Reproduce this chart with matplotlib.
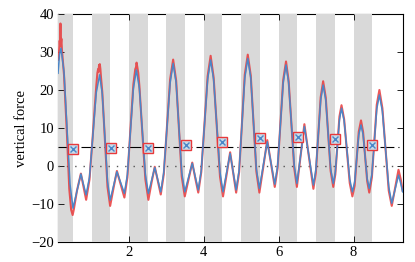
import matplotlib
matplotlib.use('Agg')
import matplotlib.pyplot as plt

plt.rcParams['font.family'] = ['Liberation Serif', 'DejaVu Serif']

# smooth (blue) trace
blue_x = [0.12, 0.16, 0.20, 0.28, 0.36, 0.44, 0.52, 0.625, 0.73, 0.80, 0.87,
          0.96, 1.05, 1.14, 1.23, 1.30, 1.37, 1.44, 1.51, 1.60, 1.69, 1.79, 1.89,
          1.97, 2.05, 2.13, 2.21, 2.29, 2.37, 2.45, 2.53, 2.615, 2.70, 2.78, 2.86,
          2.94, 3.025, 3.11, 3.19, 3.27, 3.345, 3.42, 3.50, 3.60, 3.70, 3.78, 3.86,
          3.94, 4.025, 4.11, 4.19, 4.27, 4.355, 4.44, 4.52, 4.615, 4.71, 4.79, 4.87,
          4.95, 5.025, 5.10, 5.18, 5.26, 5.335, 5.41, 5.49, 5.595, 5.70, 5.80, 5.90,
          5.975, 6.05, 6.125, 6.20, 6.27, 6.345, 6.42, 6.49, 6.59, 6.69, 6.81, 6.93,
          6.995, 7.06, 7.125, 7.19, 7.26, 7.325, 7.39, 7.46, 7.515, 7.57, 7.625, 7.68,
          7.75, 7.825, 7.90, 7.97, 8.03, 8.085, 8.14, 8.20, 8.255, 8.31, 8.365, 8.42,
          8.49, 8.555, 8.62, 8.69, 8.77, 8.855, 8.94, 9.02, 9.11, 9.20, 9.26, 9.31]
blue_y = [24.4, 29.3, 31.0, 24.7, 10.0, -4.8, -11.1, -6.6, -2.1, -4.9, -7.6,
          -2.9, 8.2, 19.3, 24.0, 19.0, 7.5, -4.0, -9.0, -5.25, -1.5, -4.35, -7.2,
          -2.3, 9.05, 20.4, 25.3, 20.4, 9.05, -2.3, -7.2, -3.8, -0.4, -3.6, -6.8,
          -1.7, 10.1, 21.9, 27.0, 21.9, 10.1, -1.7, -6.8, -3.05, 0.7, -2.8, -6.3,
          -1.2, 10.8, 22.8, 27.9, 22.7, 10.55, -1.6, -6.8, -1.75, 3.3, -1.5, -6.3,
          -1.1, 11.0, 23.1, 28.3, 23.2, 11.2, -0.8, -5.9, 0.25, 6.4, 0.8, -4.8,
          -0.1, 10.9, 21.9, 26.6, 21.9, 11.0, 0.1, -4.6, 2.9, 10.4, 2.7, -5.0,
          -1.05, 8.15, 17.35, 21.3, 17.4, 8.35, -0.7, -4.6, -1.6, 5.3, 12.2, 15.2,
          11.9, 4.2, -3.5, -6.8, -4.2, 2.0, 8.2, 10.8, 8.3, 2.45, -3.4, -5.9,
          -2.2, 6.4, 15.0, 18.7, 14.4, 4.45, -5.5, -9.8, -6.1, -2.4, -4.6, -6.8]

# raw (red) trace
red_x = [0.12, 0.15, 0.165, 0.175, 0.185, 0.19, 0.20, 0.21, 0.225, 0.28, 0.36, 0.42,
         0.47, 0.51, 0.54, 0.625, 0.73, 0.80, 0.87, 0.96, 1.05, 1.14, 1.17, 1.19,
         1.20, 1.215, 1.225, 1.235, 1.25, 1.265, 1.30, 1.37, 1.44, 1.51, 1.60, 1.69,
         1.79, 1.89, 1.97, 2.05, 2.13, 2.18, 2.20, 2.215, 2.23, 2.26, 2.29, 2.37,
         2.45, 2.53, 2.615, 2.70, 2.78, 2.86, 2.94, 3.025, 3.11, 3.19, 3.27, 3.345,
         3.42, 3.50, 3.60, 3.70, 3.78, 3.86, 3.94, 4.025, 4.11, 4.19, 4.27, 4.355,
         4.44, 4.52, 4.615, 4.71, 4.79, 4.87, 4.95, 5.025, 5.10, 5.18, 5.26, 5.335,
         5.41, 5.49, 5.595, 5.70, 5.80, 5.90, 5.975, 6.05, 6.125, 6.20, 6.27, 6.345,
         6.42, 6.49, 6.59, 6.69, 6.81, 6.93, 6.995, 7.06, 7.125, 7.19, 7.26, 7.325,
         7.39, 7.46, 7.515, 7.57, 7.625, 7.68, 7.75, 7.825, 7.90, 7.97, 8.03, 8.085,
         8.14, 8.20, 8.255, 8.31, 8.365, 8.42, 8.49, 8.555, 8.62, 8.69, 8.77, 8.855,
         8.94, 9.02, 9.11, 9.20, 9.26, 9.31]
red_y = [27.9, 30.5, 33.0, 31.5, 37.5, 33.5, 32.5, 33.5, 30.5, 24.0, 8.0, -6.0,
         -11.5, -12.9, -11.5, -6.5, -2.0, -5.5, -8.9, -3.5, 8.5, 21.0, 24.5, 25.5,
         24.8, 26.6, 25.2, 26.8, 25.5, 23.5, 19.5, 7.0, -5.5, -10.5, -5.8, -1.3,
         -4.8, -8.3, -3.0, 9.5, 21.5, 25.5, 26.0, 27.2, 26.3, 24.5, 21.0, 8.5,
         -3.5, -8.9, -4.3, -0.2, -3.9, -7.5, -2.2, 10.3, 22.8, 28.0, 22.5, 9.8,
         -2.8, -8.0, -3.5, 0.9, -3.2, -7.0, -1.6, 11.0, 23.6, 29.0, 23.3, 10.2,
         -2.8, -8.0, -2.3, 3.6, -1.8, -7.0, -1.6, 11.2, 24.0, 29.3, 23.8, 11.2,
         -1.5, -7.0, -0.2, 6.8, 0.6, -5.5, -0.6, 11.0, 22.6, 27.5, 22.4, 10.9,
         -0.6, -5.5, 2.7, 11.0, 2.5, -6.0, -1.8, 8.2, 18.1, 22.3, 18.0, 8.4,
         -1.3, -5.5, -2.2, 5.5, 13.0, 16.0, 12.3, 3.9, -4.5, -8.0, -5.2, 1.9,
         9.0, 12.0, 9.0, 2.5, -4.0, -7.0, -3.0, 6.6, 16.1, 20.0, 15.2, 4.3,
         -6.5, -10.5, -5.8, -1.0, -3.5, -6.5]

# stance phases (grey bands)
band_start = [0.0, 1.02, 2.02, 3.0, 4.0, 5.0, 6.02, 7.0, 8.01]
band_end = [0.52, 1.51, 2.52, 3.5, 4.5, 5.51, 6.5, 7.5, 8.5]

# cycle markers
mark_x = [0.52, 1.52, 2.51, 3.52, 4.50, 5.51, 6.51, 7.50, 8.49]
mark_y = [4.4, 4.8, 4.8, 5.5, 6.4, 7.3, 7.6, 7.1, 5.4]

fig = plt.figure(figsize=(4.15, 2.62), dpi=100)
ax = fig.add_axes([0.1398, 0.0763, 0.8313, 0.8703])

for s, e in zip(band_start, band_end):
    ax.axvspan(s, e, color='#d9d9d9', lw=0, zorder=1)

ax.axhline(5, color='black', lw=0.8, dashes=(12.5, 3.6, 1, 3.6), zorder=2)
ax.axhline(0, color='#555555', lw=1.0, linestyle=(0, (1, 5)), zorder=2)

ax.plot(red_x, red_y, color='#e8393b', lw=1.5, alpha=0.85, zorder=3)
ax.plot(blue_x, blue_y, color='#4a86c8', lw=1.1, zorder=4)

ax.plot(mark_x, mark_y, 's', ms=6.5, mfc='#c9dbe8', mec='#e8393b', mew=1.0,
        ls='none', zorder=5)
ax.plot(mark_x, mark_y, 'x', ms=5, mec='#4a86c8', mew=1.0, ls='none', zorder=6)

ax.set_xlim(0.12, 9.32)
ax.set_ylim(-20, 40)
ax.set_xticks([2, 4, 6, 8])
ax.set_yticks([-20, -10, 0, 10, 20, 30, 40])
ax.tick_params(direction='in', top=True, right=True, length=4, width=0.6,
               labelsize=10.5, pad=3)
for sp in ax.spines.values():
    sp.set_linewidth(0.8)
    sp.set_zorder(0.5)
ax.set_ylabel('vertical force', fontsize=10.5, labelpad=2)

fig.savefig('out.png', dpi=100)
